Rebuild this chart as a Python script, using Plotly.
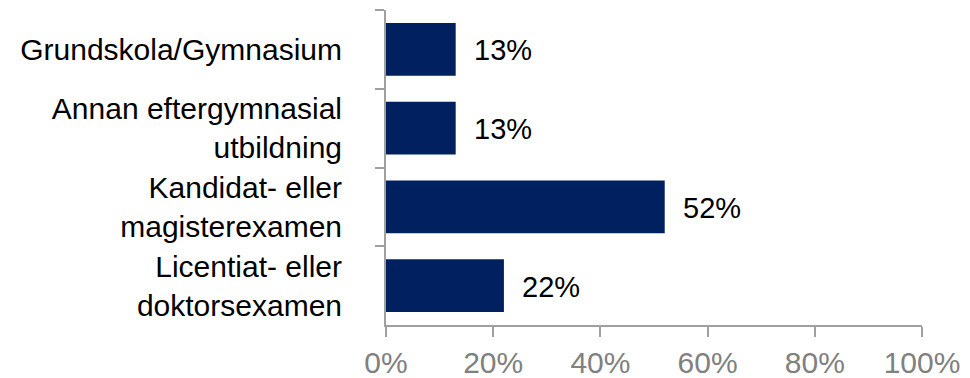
import plotly.graph_objects as go

categories = [
    "Grundskola/Gymnasium",
    "Annan eftergymnasial<br>utbildning",
    "Kandidat- eller<br>magisterexamen",
    "Licentiat- eller<br>doktorsexamen",
]
shares = [0.13, 0.13, 0.52, 0.22]
value_labels = ["13%", "13%", "52%", "22%"]

NAVY = "#002060"
AXIS_GRAY = "#a0a0a0"
FONT = "Liberation Sans, Arial, sans-serif"

fig = go.Figure(
    go.Bar(
        x=shares,
        y=categories,
        orientation="h",
        marker=dict(color=NAVY, line=dict(width=0)),
        width=0.67,
        hoverinfo="skip",
    )
)

for cat, val, lab in zip(categories, shares, value_labels):
    fig.add_annotation(
        x=val, y=cat, text=lab, showarrow=False,
        xanchor="left", yanchor="middle", xshift=16, yshift=-1,
        font=dict(family=FONT, size=29, color="#000000"),
    )

fig.update_layout(
    width=970, height=378,
    margin=dict(l=386, r=48, t=10, b=53),
    paper_bgcolor="white", plot_bgcolor="white",
    showlegend=False,
    font=dict(family=FONT),
)

fig.update_xaxes(
    range=[0, 1], dtick=0.2, tickformat=".0%",
    showgrid=False, zeroline=False, automargin=False,
    showline=True, linecolor=AXIS_GRAY, linewidth=2,
    ticks="outside", ticklen=10, tickwidth=2, tickcolor=AXIS_GRAY,
    tickfont=dict(family=FONT, size=30, color="#808080"),
)
fig.update_yaxes(
    autorange="reversed", type="category",
    showgrid=False, zeroline=False, automargin=False,
    showline=True, linecolor=AXIS_GRAY, linewidth=2,
    ticks="outside", ticklen=9, tickwidth=2, tickcolor=AXIS_GRAY,
    tickson="boundaries", ticklabelstandoff=36,
    tickfont=dict(family=FONT, size=30, color="#000000"),
)

fig.write_html("out.html")
